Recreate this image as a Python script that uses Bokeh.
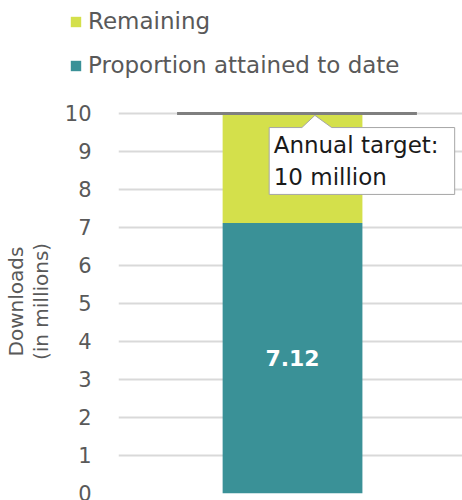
from bokeh.plotting import figure
from bokeh.layouts import column, row
from bokeh.models import (ColumnDataSource, Range1d, FixedTicker, Legend, LegendItem, Label)
from bokeh.embed import file_html
from bokeh.resources import INLINE
from bokeh.core.properties import value

# ---- data ----
categories = [0]
attained = [7.12]
target = 10
remaining = [target - a for a in attained]
y_ticks = list(range(0, 11))
series_names = ["Proportion attained to date", "Remaining"]
callout_text = "Annual target:\n10 million"
axis_title = "Downloads\n(in millions)"

TEAL = "#3A9197"
LIME = "#D4E04B"
GREY_TXT = "#595959"
FONT = "DejaVu Sans"
W = 462

src = ColumnDataSource(dict(x=categories, attained=attained, remaining=remaining,
                            label=[f"{a:.2f}" for a in attained],
                            mid=[a / 2 for a in attained]))

# ---- legend strip (its own plot; proxy bars lie outside its ranges) ----
top = figure(width=W, height=100, output_backend="svg", toolbar_location=None,
             x_range=Range1d(50, 51), y_range=Range1d(500, 501),
             min_border_left=0, min_border_right=0, min_border_top=0, min_border_bottom=0)
top.axis.visible = False
top.grid.visible = False
top.outline_line_color = None
proxy = top.vbar_stack(["attained", "remaining"], x="x", width=1.0, source=src,
                       color=[TEAL, LIME], line_color=None)
legend = Legend(items=[LegendItem(label=series_names[1], renderers=[proxy[1]]),
                       LegendItem(label=series_names[0], renderers=[proxy[0]])],
                location=(69, 22), orientation="vertical",
                padding=0, margin=0, spacing=18, label_standoff=6,
                glyph_width=13, glyph_height=13, label_height=26,
                label_text_font=FONT, label_text_font_size="23px",
                label_text_color=GREY_TXT, border_line_color=None,
                background_fill_alpha=0)
top.add_layout(legend, "center")

# ---- chart ----
p = figure(width=W, height=400, output_backend="svg", toolbar_location=None,
           x_range=Range1d(-1.245, 1.216), y_range=Range1d(0, 10.105),
           min_border_left=115, min_border_right=0, min_border_top=9,
           min_border_bottom=7)
p.outline_line_color = None

r_stack = p.vbar_stack(["attained", "remaining"], x="x", width=1.0, source=src,
                       color=[TEAL, LIME], line_color=None)

p.text(x="x", y="mid", text="label", source=src, text_color="white",
       text_font=value(FONT), text_font_size="22px", text_font_style="bold",
       text_align="center", text_baseline="middle")

# target line
p.segment(x0=[-0.826], x1=[0.89], y0=[target], y1=[target], line_color="#7F7F7F",
          line_width=3)

# callout
tip_y = target - 0.05
bx0, bx1, by0, by1 = -0.167, 1.16, 7.87, 9.63
p.patch(x=[bx0, 0.067, 0.16, 0.28, bx1, bx1, bx0],
        y=[by1, by1, tip_y, by1, by1, by0, by0],
        fill_color="white", line_color="#A6A6A6", line_width=1)
p.add_layout(Label(x=-0.135, y=9.5, text=callout_text, text_font=FONT,
                   text_font_size="23px", text_color="#1a1a1a",
                   text_baseline="top", text_line_height=1.22))

p.xaxis.visible = False
p.xgrid.visible = False
ya = p.yaxis[0]
ya.ticker = FixedTicker(ticks=y_ticks)
ya.axis_line_color = None
ya.major_tick_line_color = None
ya.minor_tick_line_color = None
ya.major_label_standoff = 21
ya.major_label_text_font = FONT
ya.major_label_text_font_size = "21px"
ya.major_label_text_color = GREY_TXT
ya.axis_label = axis_title
ya.axis_label_text_font = FONT
ya.axis_label_text_font_size = "20px"
ya.axis_label_text_font_style = "normal"
ya.axis_label_text_color = GREY_TXT
ya.axis_label_text_line_height = 1.05
ya.axis_label_standoff = 9
p.ygrid.grid_line_color = "#D9D9D9"
p.ygrid.grid_line_width = 2
p.ygrid.ticker = FixedTicker(ticks=y_ticks)

layout = column(row(top), row(p), spacing=0)
open("out.html", "w").write(file_html(layout, INLINE))
